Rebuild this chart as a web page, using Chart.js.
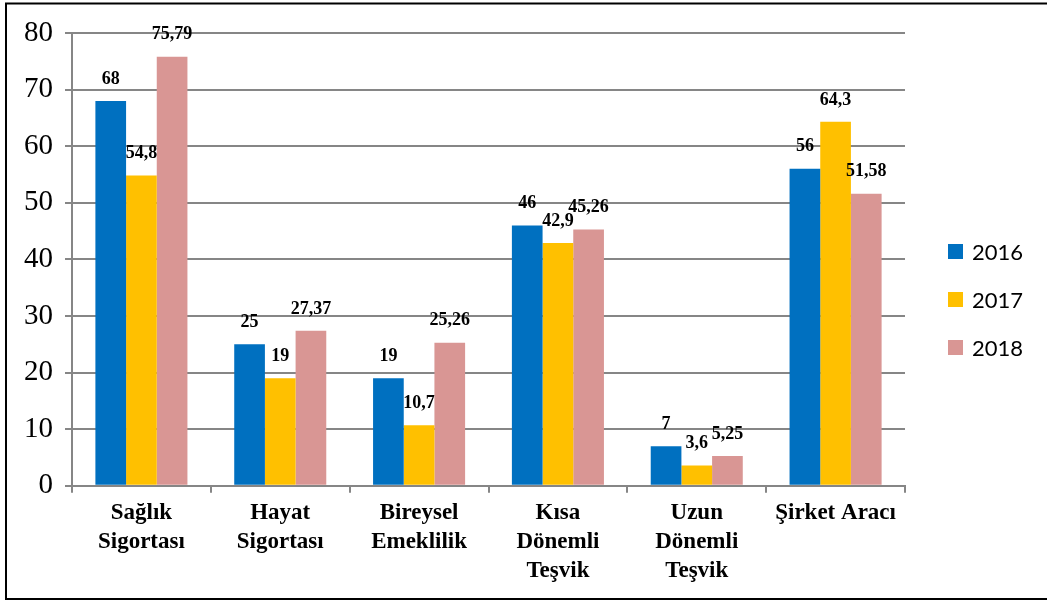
<!DOCTYPE html>
<html>
<head>
<meta charset="utf-8">
<script src="https://cdn.jsdelivr.net/npm/chart.js@4.4.1/dist/chart.umd.min.js"></script>
<style>
  html, body { margin: 0; padding: 0; background: #fff; }
  #wrap { width: 1047px; height: 601px; position: relative; }
</style>
</head>
<body>
<div id="wrap"><canvas id="c"></canvas></div>
<script>
// categories (multi-line labels) and series
const categories = [
  ['Sağlık', 'Sigortası'],
  ['Hayat', 'Sigortası'],
  ['Bireysel', 'Emeklilik'],
  ['Kısa', 'Dönemli', 'Teşvik'],
  ['Uzun', 'Dönemli', 'Teşvik'],
  ['Şirket Aracı']
];
const years = ['2016', '2017', '2018'];
const v2016 = [68, 25, 19, 46, 7, 56];
const v2017 = [54.8, 19, 10.7, 42.9, 3.6, 64.3];
const v2018 = [75.79, 27.37, 25.26, 45.26, 5.25, 51.58];
const colors = ['#0070C0', '#FFC000', '#D99694'];
const yTicks = [0, 10, 20, 30, 40, 50, 60, 70, 80];

const GRID = '#868686';
const SERIF = '"Liberation Serif", "Times New Roman", serif';
const fmt = v => String(v).replace('.', ',');

// frame round the whole picture
const framePlugin = {
  id: 'frame',
  afterDraw(chart) {
    const ctx = chart.ctx;
    ctx.save();
    ctx.strokeStyle = '#000';
    ctx.lineWidth = 2;
    ctx.strokeRect(6, 3.5, 1060, 595.5);
    ctx.restore();
  }
};

// value labels above every bar
const valueLabels = {
  id: 'valueLabels',
  afterDatasetsDraw(chart) {
    const ctx = chart.ctx;
    ctx.save();
    ctx.font = 'bold 18px ' + SERIF;
    ctx.fillStyle = '#000';
    ctx.textAlign = 'center';
    ctx.textBaseline = 'middle';
    chart.data.datasets.forEach((ds, i) => {
      chart.getDatasetMeta(i).data.forEach((bar, j) => {
        ctx.fillText(fmt(ds.data[j]), bar.x, bar.y - 22);
      });
    });
    ctx.restore();
  }
};

// legend on the right, drawn by hand so the gap to the plot can be set
const sideLegend = {
  id: 'sideLegend',
  afterDraw(chart) {
    const ctx = chart.ctx;
    const step = 48;
    const n = chart.data.datasets.length;
    const y0 = chart.height / 2 - 1 - step * (n - 1) / 2;
    ctx.save();
    ctx.font = '22px Lato, "Open Sans", sans-serif';
    ctx.textBaseline = 'middle';
    ctx.textAlign = 'left';
    chart.data.datasets.forEach((ds, i) => {
      const y = y0 + i * step;
      ctx.fillStyle = ds.backgroundColor;
      ctx.fillRect(948, y - 7.5, 15, 15);
      ctx.fillStyle = '#000';
      ctx.fillText(ds.label, 972, y + 1);
    });
    ctx.restore();
  }
};

const seriesVals = [v2016, v2017, v2018];

new Chart(document.getElementById('c'), {
  type: 'bar',
  data: {
    labels: categories,
    datasets: years.map((y, i) => ({
      label: y,
      data: seriesVals[i],
      backgroundColor: colors[i],
      borderWidth: 0,
      categoryPercentage: 0.663,
      barPercentage: 1
    }))
  },
  options: {
    responsive: true,
    maintainAspectRatio: false,
    animation: false,
    layout: { padding: { left: 12, right: 142, top: 33, bottom: 10 } },
    plugins: {
      legend: { display: false },
      tooltip: { enabled: false }
    },
    scales: {
      x: {
        grid: { display: true, drawOnChartArea: false, drawTicks: true, tickLength: 7, color: GRID, lineWidth: 2, offset: true },
        border: { color: GRID, width: 2 },
        ticks: {
          font: { family: SERIF, size: 23, weight: 'bold', lineHeight: 1.25 },
          color: '#000',
          maxRotation: 0,
          autoSkip: false,
          padding: 6
        }
      },
      y: {
        min: 0,
        max: 80,
        afterBuildTicks: axis => { axis.ticks = yTicks.map(v => ({ value: v })); },
        grid: { color: GRID, lineWidth: 2, tickLength: 7 },
        border: { color: GRID, width: 2 },
        ticks: {
          font: { family: SERIF, size: 29 },
          color: '#000',
          padding: 12
        }
      }
    }
  },
  plugins: [framePlugin, valueLabels, sideLegend]
});
</script>
</body>
</html>
